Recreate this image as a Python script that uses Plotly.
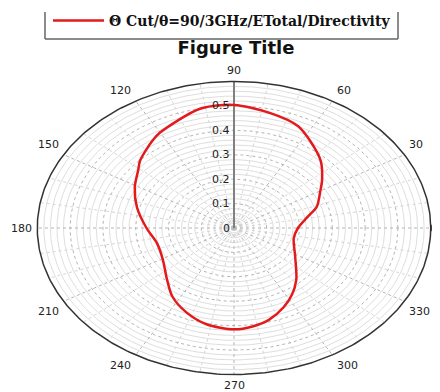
import numpy as np
import plotly.graph_objects as go

# ---- data ----
theta_deg = [0, 11, 19, 30, 36, 46, 57, 65, 77, 90, 102, 120, 125, 136, 141, 151, 164, 180,
             195, 211, 226, 236, 247, 258, 270, 278, 286, 295, 303, 312, 328, 347, 360]
directivity = [0.195, 0.227, 0.267, 0.304, 0.332, 0.381, 0.426, 0.461, 0.484, 0.504, 0.499, 0.451, 0.435,
               0.398, 0.376, 0.346, 0.308, 0.267,
               0.243, 0.253, 0.294, 0.337, 0.374, 0.403, 0.415, 0.407, 0.390, 0.358, 0.325, 0.284,
               0.220, 0.187, 0.195]
series_name = "Θ Cut/θ=90/3GHz/ETotal/Directivity"

radial_ticks = [0, 0.1, 0.2, 0.3, 0.4, 0.5]
radial_tick_labels = ["0", "0.1", "0.2", "0.3", "0.4", "0.5"]
radial_max = 0.6
radial_minor_step = 0.02
angle_ticks = [0, 30, 60, 90, 120, 150, 180, 210, 240, 270, 300, 330]
angle_tick_labels = ["0", "30", "60", "90", "120", "150", "180", "210", "240", "270", "300", "330"]
angle_minor_step = 10

# ---- layout geometry (pixels); the page body adds an 8px offset ----
OFF = 8
W, H = 440 - OFF, 392 - OFF
ML, MR, MT, MB = 34 - OFF, 6, 79 - OFF, 15
PW, PH = W - ML - MR, H - MT - MB
AX = 0.61


def px_x(p):
    return (p - OFF - ML) / PW


def px_y(p):
    return 1 - (p - OFF - MT) / PH


def polar_xy(r, deg):
    a = np.deg2rad(np.asarray(deg, dtype=float))
    r = np.asarray(r, dtype=float)
    return r * np.cos(a), r * np.sin(a)


def circles(rs):
    xs, ys = [], []
    t = np.linspace(0, 360, 361)
    for r in rs:
        x, y = polar_xy(np.full_like(t, r), t)
        xs += list(x) + [None]
        ys += list(y) + [None]
    return xs, ys


def spokes(angles, r0=0.0):
    xs, ys = [], []
    for a in angles:
        x, y = polar_xy([r0, radial_max], [a, a])
        xs += list(x) + [None]
        ys += list(y) + [None]
    return xs, ys


fig = go.Figure()

minor_r = [v for v in np.arange(radial_minor_step, radial_max, radial_minor_step)
           if min(abs(v - t) for t in radial_ticks) > 1e-6]
minor_a = [a for a in range(0, 360, angle_minor_step) if a not in angle_ticks]

for xy, color, dash, w in [
    (circles(minor_r), "#dedede", "solid", 1),
    (spokes(minor_a), "#d6d6d6", "dot", 1),
    (circles(radial_ticks[1:]), "#b4b4b4", "dot", 1),
    (spokes(angle_ticks), "#b4b4b4", "dot", 1),
]:
    fig.add_trace(go.Scatter(x=xy[0], y=xy[1], mode="lines", line=dict(color=color, width=w, dash=dash),
                             hoverinfo="skip", showlegend=False))

# radial axis line at 90 deg
ax_x, ax_y = polar_xy([0, radial_max], [90, 90])
fig.add_trace(go.Scatter(x=ax_x, y=ax_y, mode="lines", line=dict(color="#808080", width=2),
                         hoverinfo="skip", showlegend=False))
# outer boundary
bx, by = circles([radial_max])
fig.add_trace(go.Scatter(x=bx, y=by, mode="lines", line=dict(color="#333333", width=1.5),
                         hoverinfo="skip", showlegend=False))

# data curve
cx, cy = polar_xy(directivity, theta_deg)
fig.add_trace(go.Scatter(x=cx, y=cy, mode="lines", name=series_name,
                         line=dict(color="#e31a1c", width=2.5, shape="spline", smoothing=0.8)))

annotations = []
for v, lab in zip(radial_ticks, radial_tick_labels):
    annotations.append(dict(x=0, y=v, xref="x", yref="y", text=lab, showarrow=False,
                            xanchor="right", yanchor="middle", xshift=-2,
                            font=dict(family="DejaVu Sans", size=11, color="#222")))
for a, lab in zip(angle_ticks, angle_tick_labels):
    x, y = polar_xy(radial_max, a)
    c, s = np.cos(np.deg2rad(a)), np.sin(np.deg2rad(a))
    xa = "left" if c > 0.01 else ("right" if c < -0.01 else "center")
    ya = "bottom" if s > 0.01 else ("top" if s < -0.01 else "middle")
    xs = 3 * np.sign(round(c, 2))
    if c > 0.99:
        xs = -3  # keep the right-hand label inside the frame
    annotations.append(dict(x=float(x), y=float(y), xref="x", yref="y", text=lab, showarrow=False,
                            xanchor=xa, yanchor=ya, xshift=xs,
                            yshift=2 * np.sign(round(s, 2)),
                            font=dict(family="DejaVu Sans", size=11, color="#222")))

shapes = []
box_l, box_r, box_t, box_b = 45, 398, 12, 39
for (x0, y0, x1, y1) in [(box_l, box_t, box_l, box_b), (box_r, box_t, box_r, box_b),
                         (box_l, box_b, box_r, box_b)]:
    shapes.append(dict(type="line", xref="paper", yref="paper",
                       x0=px_x(x0), y0=px_y(y0), x1=px_x(x1), y1=px_y(y1),
                       line=dict(color="#666666", width=1.5)))

fig.update_layout(
    width=W, height=H,
    margin=dict(l=ML, r=MR, t=MT, b=MB, autoexpand=False),
    paper_bgcolor="white", plot_bgcolor="white",
    xaxis=dict(range=[-AX, AX], visible=False, fixedrange=True),
    yaxis=dict(range=[-AX, AX], visible=False, fixedrange=True),
    title=dict(text="Figure Title", x=px_x(236), xref="paper", xanchor="center",
               y=1 - (48 - OFF) / H, yanchor="middle",
               font=dict(family="DejaVu Sans", size=18, weight="bold", color="#111")),
    showlegend=True,
    legend=dict(x=(48 - OFF) / W, y=1 - (21 - OFF) / H, xref="container", yref="container",
                xanchor="left", yanchor="middle",
                bgcolor="rgba(0,0,0,0)", borderwidth=0, itemwidth=51,
                font=dict(family="DejaVu Serif", size=14, weight="bold", color="#111")),
    annotations=annotations,
    shapes=shapes,
)

fig.write_html("out.html")
